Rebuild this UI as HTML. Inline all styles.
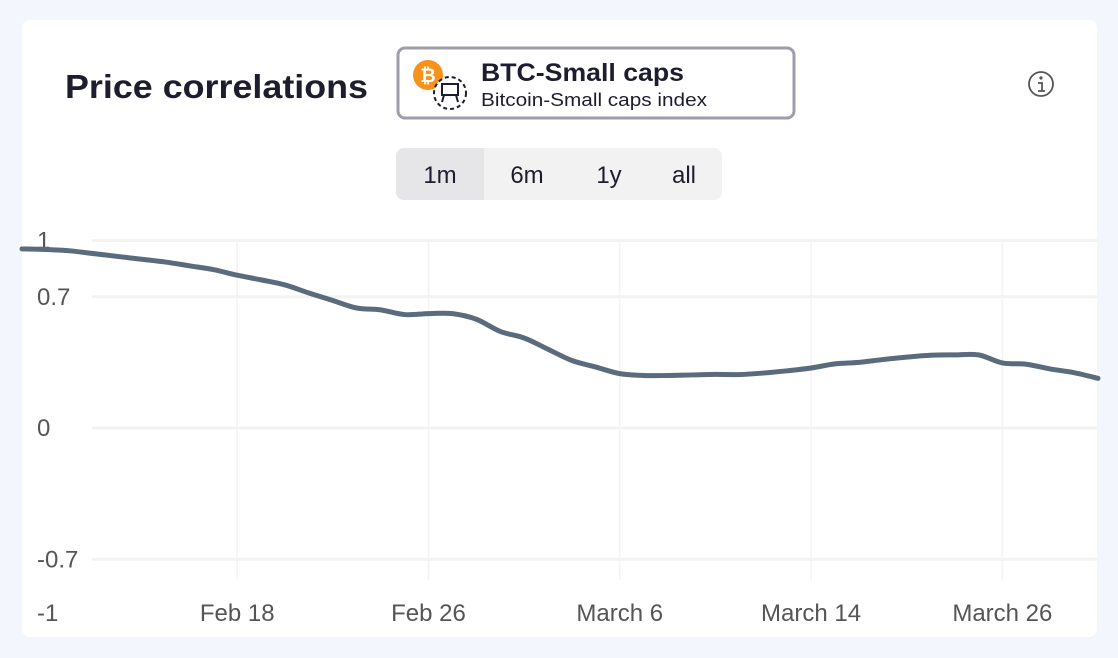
<!DOCTYPE html>
<html><head><meta charset="utf-8">
<style>
html,body{margin:0;padding:0;background:#f3f6fd;width:1118px;height:658px;overflow:hidden;font-family:"Liberation Sans",sans-serif;}
svg{position:absolute;left:0;top:0;}
</style></head>
<body>
<svg width="1118" height="658" viewBox="0 0 1118 658">
  <rect x="22" y="20" width="1075" height="617" rx="8" fill="#ffffff"/>
  <text x="65" y="98" font-size="33" font-weight="bold" fill="#1d1d2e" textLength="303" lengthAdjust="spacingAndGlyphs">Price correlations</text>
  <g>
    <rect x="398" y="48" width="396" height="70" rx="7" fill="#fff" stroke="#9d9dac" stroke-width="3"/>
    <circle cx="428" cy="75" r="15" fill="#f7931a"/>
    <text x="428" y="82" font-size="19" font-weight="bold" fill="#fff" text-anchor="middle">₿</text>
    <circle cx="450" cy="93" r="16" fill="#fff" stroke="#1d1d2e" stroke-width="2" stroke-dasharray="4 3"/>
    <rect x="442" y="84" width="16" height="11" fill="none" stroke="#1d1d2e" stroke-width="2"/>
    <path d="M444 95 L442 102 M456 95 L458 102" stroke="#1d1d2e" stroke-width="2"/>
    <text x="481" y="81" font-size="25" font-weight="bold" fill="#1d1d2e" textLength="203" lengthAdjust="spacingAndGlyphs">BTC-Small caps</text>
    <text x="481" y="106" font-size="18" fill="#1d1d2e" textLength="226" lengthAdjust="spacingAndGlyphs">Bitcoin-Small caps index</text>
  </g>
  <g>
    <circle cx="1041" cy="84" r="12" fill="none" stroke="#555" stroke-width="1.8"/>
    <circle cx="1041" cy="78" r="1.6" fill="#555"/>
    <path d="M1038 83 H1042 V91 M1038 91 H1045" stroke="#555" stroke-width="1.8" fill="none"/>
  </g>
  <g>
    <rect x="396" y="148" width="326" height="52" rx="8" fill="#f2f2f3"/>
    <path d="M404 148 H484 V200 H404 A8 8 0 0 1 396 192 V156 A8 8 0 0 1 404 148Z" fill="#e6e6e9"/>
    <text x="440" y="183" font-size="24" fill="#1d1d2e" text-anchor="middle">1m</text>
    <text x="527" y="183" font-size="24" fill="#1d1d2e" text-anchor="middle">6m</text>
    <text x="609" y="183" font-size="24" fill="#1d1d2e" text-anchor="middle">1y</text>
    <text x="684" y="183" font-size="24" fill="#1d1d2e" text-anchor="middle">all</text>
  </g>
  <g id="grid"></g>
  <g id="labels"></g>
  <path id="line" fill="none" stroke="#5a6b7d" stroke-width="5" stroke-linejoin="round" stroke-linecap="round"/>
</svg>
<script>
const values = [0.955,0.952,0.945,0.93,0.915,0.90,0.885,0.865,0.845,0.815,0.79,0.763,0.72,0.68,0.64,0.63,0.605,0.61,0.61,0.58,0.515,0.48,0.42,0.36,0.325,0.29,0.28,0.28,0.283,0.286,0.285,0.293,0.305,0.32,0.342,0.35,0.365,0.378,0.388,0.39,0.39,0.347,0.34,0.315,0.295,0.265];
const xTickIndex = [9,17,25,33,41];
const xTickLabels = ["Feb 18","Feb 26","March 6","March 14","March 26"];
const yTicks = [1,0.7,0,-0.7];
const yTickLabels = ["1","0.7","0","-0.7","-1"];
const yLabelValues = [1,0.7,0,-0.7,-1];

const NS="http://www.w3.org/2000/svg";
const x0=22, xStep=(1098-22)/45;
const xs=i=>x0+i*xStep;
const ys=v=>428-v*187.5;
const grid=document.getElementById('grid'), labels=document.getElementById('labels');
function mk(tag,attrs,parent){const e=document.createElementNS(NS,tag);for(const k in attrs)e.setAttribute(k,attrs[k]);parent.appendChild(e);return e;}
yTicks.forEach(v=>{
  const l=mk('line',{x1:92,x2:1097,y1:ys(v),y2:ys(v),stroke:'#f3f3f4','stroke-width':3},grid);
  
  
});
xTickIndex.forEach((idx,k)=>{
  const l=mk('line',{x1:xs(idx),x2:xs(idx),y1:242,y2:580,stroke:'#f3f3f4','stroke-width':1.5},grid);
  
  
  const t=mk('text',{x:xs(idx),y:621,'font-size':24,fill:'#555','text-anchor':'middle'},labels);
  t.textContent=xTickLabels[k];
  
  
});
yLabelValues.forEach((v,k)=>{
  const t=mk('text',{x:37,y:Math.min(ys(v)+8,621),'font-size':24,fill:'#555'},labels);
  t.textContent=yTickLabels[k];
  
  
});
const pts=values.map((v,i)=>[xs(i),ys(v)]);
let d='M'+pts[0][0]+' '+pts[0][1];
for(let i=0;i<pts.length-1;i++){
  const p0=pts[Math.max(i-1,0)],p1=pts[i],p2=pts[i+1],p3=pts[Math.min(i+2,pts.length-1)];
  const c1=[p1[0]+(p2[0]-p0[0])/6,p1[1]+(p2[1]-p0[1])/6];
  const c2=[p2[0]-(p3[0]-p1[0])/6,p2[1]-(p3[1]-p1[1])/6];
  d+=` C${c1[0]} ${c1[1]} ${c2[0]} ${c2[1]} ${p2[0]} ${p2[1]}`;
}
document.getElementById('line').setAttribute('d',d);
</script>
</body></html>
